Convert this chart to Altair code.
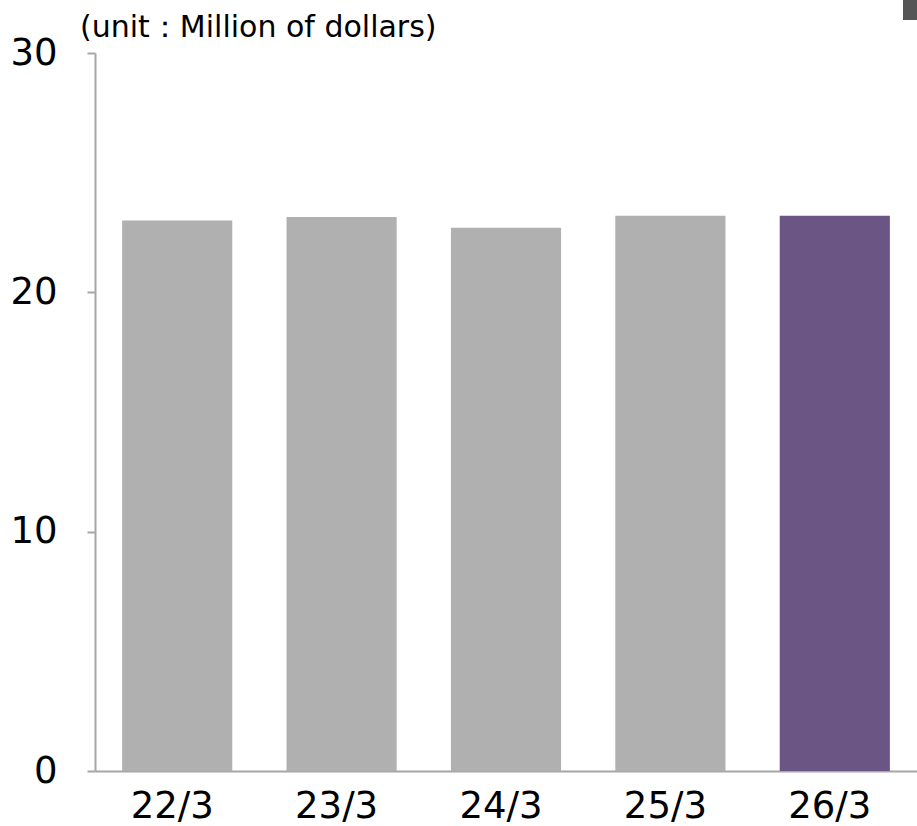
import altair as alt
import pandas as pd

# Fiscal year-end labels and values (million dollars)
years = ["22/3", "23/3", "24/3", "25/3", "26/3"]
values = [23.0, 23.15, 22.7, 23.2, 23.2]
bar_colors = ["#b0b0b0", "#b0b0b0", "#b0b0b0", "#b0b0b0", "#6a5585"]
unit_note = "(unit：Million of dollars)"

df = pd.DataFrame({"year": years, "value": values, "color": bar_colors})
note_df = pd.DataFrame({"note": [unit_note]})

LABEL_FONT = "DejaVu Sans"
AXIS_GREY = "#a6a6a6"

bars = alt.Chart(df).mark_bar().encode(
    x=alt.X(
        "year:N",
        sort=years,
        scale=alt.Scale(paddingInner=0.33, paddingOuter=0.165),
        axis=alt.Axis(
            title=None,
            ticks=False,
            tickSize=0,
            grid=False,
            labelAngle=0,
            labelFontSize=37,
            labelFont=LABEL_FONT,
            labelColor="#000000",
            labelPadding=17,
            labelOffset=-5,
            domainColor=AXIS_GREY,
            domainWidth=2,
        ),
    ),
    y=alt.Y(
        "value:Q",
        scale=alt.Scale(domain=[0, 30], nice=False),
        axis=alt.Axis(
            title=None,
            values=[0, 10, 20, 30],
            grid=False,
            tickSize=8,
            tickColor=AXIS_GREY,
            tickWidth=2,
            labelFontSize=37,
            labelFont=LABEL_FONT,
            labelColor="#000000",
            labelPadding=30,
            domainColor=AXIS_GREY,
            domainWidth=2,
        ),
    ),
    color=alt.Color("color:N", scale=None, legend=None),
)

# unit note above the value axis
note = alt.Chart(note_df).mark_text(
    align="left",
    baseline="alphabetic",
    font=LABEL_FONT,
    fontSize=30,
    fontWeight="normal",
    color="#000000",
).encode(x=alt.value(-15), y=alt.value(-16), text="note:N")

# small dark marker in the top-right corner
marker = alt.Chart(note_df).mark_rect(color="#555555").encode(
    x=alt.value(808), x2=alt.value(822), y=alt.value(-53), y2=alt.value(-33)
)

chart = (
    alt.layer(bars, note, marker)
    .properties(
        width=822,
        height=718,
        background="#ffffff",
        autosize=alt.AutoSizeParams(type="none"),
        padding={"left": 95, "top": 53, "right": 0, "bottom": 54},
    )
    .configure_view(stroke="transparent", strokeWidth=0)
    .configure_axis(grid=False)
)

chart.save("out.html", embed_options={"renderer": "svg", "actions": False})
